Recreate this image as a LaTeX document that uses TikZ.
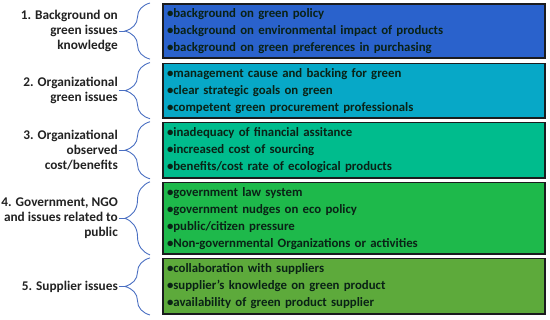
\documentclass[tikz,border=0pt]{standalone}
\usepackage{fontspec}
\setmainfont{Carlito}
\usepackage{tikz}
\usetikzlibrary{positioning,calc,decorations.pathreplacing}
\definecolor{BoxBlue}{HTML}{2A62CC}
\definecolor{BoxCyan}{HTML}{07A8C7}
\definecolor{BoxTeal}{HTML}{00BC8D}
\definecolor{BoxGreen}{HTML}{1EB94B}
\definecolor{BoxOlive}{HTML}{5DAA3B}
\definecolor{BorderDark}{HTML}{1A1C1E}
\definecolor{ItemText}{HTML}{0A2216}
\definecolor{LabelDark}{HTML}{222222}
\definecolor{BraceBlue}{HTML}{4A6FC2}

\begin{document}
\begin{tikzpicture}[x=1pt,y=-1pt,
  item/.style={draw=BorderDark,line width=1.6pt,text=ItemText,
    font=\bfseries\fontsize{12.8}{17}\selectfont,align=left,
    text width=374pt,minimum width=382.4pt,inner sep=3pt},
  topic/.style={text=LabelDark,font=\bfseries\fontsize{13.3}{15}\selectfont,
    align=right,anchor=east,inner sep=1pt},
  curly/.style={draw=BraceBlue,line width=0.9pt,decorate,
    decoration={brace,amplitude=25pt}},
  stub/.style={draw=BraceBlue,line width=0.9pt}]
  \useasboundingbox (0,0) rectangle (550,320);

  % item boxes
  \node[item,fill=BoxBlue,minimum height=54.5pt,anchor=north west] (box1) at (162,3)
    {•background on green policy\\•background on environmental impact of products\\•background on green preferences in purchasing};
  \node[item,fill=BoxCyan,minimum height=54.5pt,below=3.5pt of box1] (box2)
    {•management cause and backing for green\\•clear strategic goals on green\\•competent green procurement professionals};
  \node[item,fill=BoxTeal,minimum height=55.5pt,below=3pt of box2] (box3)
    {•inadequacy of financial assitance\\•increased cost of sourcing\\•benefits/cost rate of ecological products};
  \node[item,fill=BoxGreen,minimum height=71.5pt,below=3pt of box3] (box4)
    {•government law system\\•government nudges on eco policy\\•public/citizen pressure\\•Non-governmental Organizations or activities};
  \node[item,fill=BoxOlive,minimum height=55.5pt,below=3pt of box4] (box5)
    {•collaboration with suppliers\\•supplier’s knowledge on green product\\•availability of green product supplier};

  % group labels
  \node[topic] (lab1) at ([xshift=-43pt]box1.west) {1. Background on\\green issues\\knowledge};
  \node[topic] (lab2) at ([xshift=-43pt]box2.west) {2. Organizational\\green issues};
  \node[topic] (lab3) at ([xshift=-43pt]box3.west) {3. Organizational\\observed\\cost/benefits};
  \node[topic] (lab4) at ([xshift=-43pt]box4.west) {4. Government, NGO\\and issues related to\\public};
  \node[topic] (lab5) at ([xshift=-43pt]box5.west) {5. Supplier issues};

  \foreach \k in {1,...,5} {
    \coordinate (tip\k) at ([xshift=-37pt]box\k.west);
    \draw[curly] ([xshift=-12pt]box\k.south west) -- ([xshift=-12pt]box\k.north west);
    \draw[stub] (lab\k.east) -- (tip\k);
  }
\end{tikzpicture}
\end{document}
